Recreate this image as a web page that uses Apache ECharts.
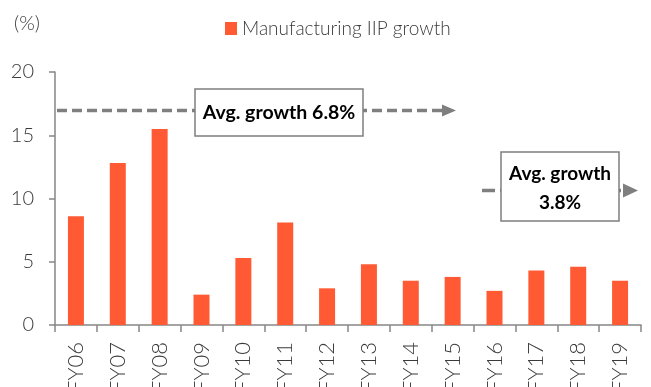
<!DOCTYPE html>
<html>
<head>
<meta charset="utf-8">
<script src="https://cdn.jsdelivr.net/npm/echarts@6/dist/echarts.min.js"></script>
<style>
html,body{margin:0;padding:0;background:#fff;}
#chart{width:651px;height:387px;}
</style>
</head>
<body>
<div id="chart"></div>
<script>
const categories = ['FY06','FY07','FY08','FY09','FY10','FY11','FY12','FY13','FY14','FY15','FY16','FY17','FY18','FY19'];
const growth = [8.6, 12.8, 15.5, 2.4, 5.3, 8.1, 2.9, 4.8, 3.5, 3.8, 2.7, 4.3, 4.6, 3.5];
const yTicks = [0, 5, 10, 15, 20];
const seriesName = 'Manufacturing IIP growth';
const note1 = 'Avg. growth 6.8%';
const note2 = 'Avg. growth\n3.8%';

const FONT = 'Lato, "Open Sans", sans-serif';
const GRAY = '#7f7f7f';
const chart = echarts.init(document.getElementById('chart'), null, {renderer: 'canvas'});

const option = {
  animation: false,
  backgroundColor: '#ffffff',
  grid: {left: 55, right: 10, top: 72, bottom: 62, containLabel: false, outerBoundsMode: 'none'},
  legend: {
    data: [seriesName],
    left: 220, top: 14,
    icon: 'rect', itemWidth: 12, itemHeight: 13, itemGap: 6,
    textStyle: {fontFamily: FONT, fontSize: 19, fontWeight: 300, color: '#3a3a3a'}
  },
  xAxis: {
    type: 'category',
    data: categories,
    boundaryGap: true,
    axisLine: {show: true, lineStyle: {color: '#868686', width: 1.5}},
    axisTick: {show: true, alignWithLabel: false, length: 7, lineStyle: {color: '#868686', width: 1.5}},
    axisLabel: {rotate: 90, margin: 17, fontFamily: FONT, fontSize: 22, fontWeight: 300, color: '#3a3a3a', interval: 0}
  },
  yAxis: {
    type: 'value',
    min: yTicks[0], max: yTicks[yTicks.length - 1], interval: 5,
    axisLine: {show: true, lineStyle: {color: '#868686', width: 1.5}},
    axisTick: {show: true, length: 6, lineStyle: {color: '#868686', width: 1.5}},
    splitLine: {show: false},
    axisLabel: {margin: 21, fontFamily: FONT, fontSize: 20, fontWeight: 300, color: '#3a3a3a'}
  },
  series: [{
    name: seriesName,
    type: 'bar',
    data: growth,
    barWidth: 16,
    itemStyle: {color: '#FF5A33'}
  }],
  graphic: [
    {type: 'text', left: 14, top: 14, style: {text: '(%)', font: '300 20px ' + FONT, fill: '#3a3a3a'}},
    // arrow 1
    {type: 'line', shape: {x1: 57, y1: 110.5, x2: 442, y2: 110.5}, style: {stroke: GRAY, lineWidth: 3.5, lineDash: [10, 5]}, z: 10},
    {type: 'polygon', shape: {points: [[442, 104.5], [456, 110.5], [442, 116.5]]}, style: {fill: GRAY}, z: 10},
    {type: 'rect', shape: {x: 195, y: 89, width: 168, height: 47}, style: {fill: '#fff', stroke: GRAY, lineWidth: 1.5}, z: 11},
    {type: 'text', x: 279, y: 113, style: {text: note1, font: 'bold 19.5px ' + FONT, fill: '#000', align: 'center', verticalAlign: 'middle'}, z: 12},
    // arrow 2
    {type: 'line', shape: {x1: 482, y1: 190.5, x2: 624, y2: 190.5}, style: {stroke: GRAY, lineWidth: 3.5, lineDash: [13, 5]}, z: 10},
    {type: 'polygon', shape: {points: [[623, 183.5], [638, 190.5], [623, 197.5]]}, style: {fill: GRAY}, z: 10},
    {type: 'rect', shape: {x: 501, y: 152, width: 118, height: 69}, style: {fill: '#fff', stroke: GRAY, lineWidth: 1.5}, z: 11},
    {type: 'text', x: 560, y: 188, style: {text: note2, font: 'bold 19px ' + FONT, fill: '#000', align: 'center', verticalAlign: 'middle', lineHeight: 29}, z: 12}
  ]
};
chart.setOption(option);
</script>
</body>
</html>
